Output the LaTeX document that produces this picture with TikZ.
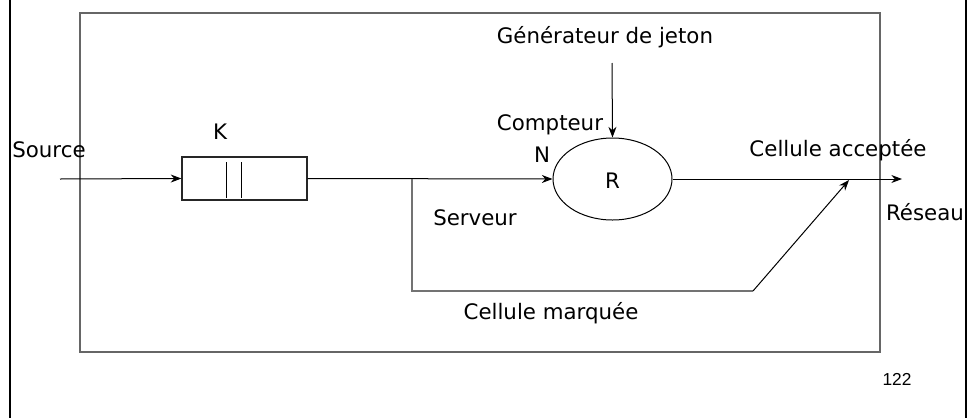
\documentclass[tikz,border=0pt]{standalone}
\usepackage{fontspec}
\setmainfont{DejaVu Sans}
\newfontfamily\numfont{Liberation Sans}
\usetikzlibrary{arrows.meta,shapes.geometric}
\tikzset{
  lbl/.style={inner sep=0pt, font=\fontsize{16}{19}\selectfont},
  flow/.style={draw=black, line width=0.75pt},
  arr/.style={flow, -{Stealth[length=8pt,width=6pt]}},
  grayline/.style={draw=black!55, line width=1.3pt},
  frame/.style={draw=black!60, line width=1.1pt},
}
\begin{document}
\begin{tikzpicture}[x=0.75pt,y=-0.75pt]
\useasboundingbox (0,0) rectangle (970,418);
% page borders
\draw[line width=1.6pt] (10,0) -- (10,418);
\draw[line width=1.6pt] (966,0) -- (966,418);
% inner frame
\node[frame, rectangle, minimum width=800*0.75pt, minimum height=339*0.75pt, inner sep=0pt] (fr) at (480,182.5) {};
% queue
\node[draw=black!85, line width=0.9pt, rectangle, minimum width=125*0.75pt, minimum height=43*0.75pt, inner sep=0pt] (q) at (244.5,178.5) {};
\draw[flow] (226,162) -- (226,198);
\draw[flow] (241,162) -- (241,198);
% token counter
\node[draw, ellipse, line width=0.75pt, minimum width=119*0.75pt, minimum height=82*0.75pt, inner sep=0pt] (R) at (612.5,179) {};
\node[lbl] (Rl) at (612.5,181) {R};
% labels
\node[lbl] (src) at (49,150) {Source};
\node[lbl] (K) at (220,132) {K};
\node[lbl] (gen) at (605,37) {Générateur de jeton};
\node[lbl] (cpt) at (550,125) {Compteur};
\node[lbl] (N) at (542,155) {N};
\node[lbl] (srv) at (475,218) {Serveur};
\node[lbl] (acc) at (838,150) {Cellule acceptée};
\node[lbl] (res) at (925,212) {Réseau};
\node[lbl] (mrk) at (551,313) {Cellule marquée};
\node[inner sep=0pt, font=\numfont\fontsize{13}{15}\selectfont] (num) at (897,379) {122};
% coordinates
\coordinate (in) at (60,179);
\coordinate (g0) at (612,63);
\coordinate (br) at (412,179);
\coordinate (m1) at (412,291);
\coordinate (m2) at (753,291);
\coordinate (join) at (849,180);
\coordinate (out) at (902,179);
% connectors
\draw[arr] (in) -- (q.west);
\draw[arr] (q.east) -- (R.west);
\draw[arr] (g0) -- (R.north);
\draw[arr] (R.east) -- (out);
\draw[grayline] (br) -- (m1) -- (m2);
\draw[arr] (m2) -- (join);
\end{tikzpicture}
\end{document}
